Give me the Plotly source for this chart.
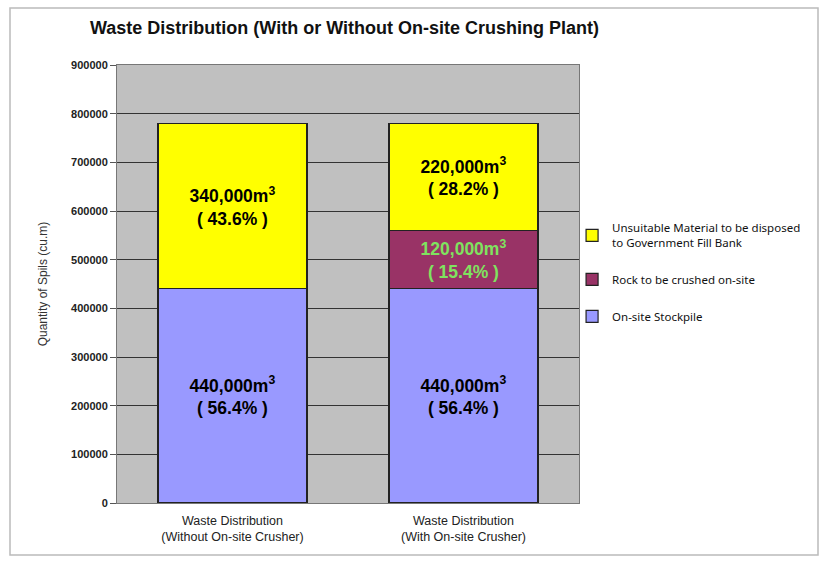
import plotly.graph_objects as go

categories = ["Waste Distribution<br>(Without On-site Crusher)",
              "Waste Distribution<br>(With On-site Crusher)"]
stockpile = [440000, 440000]
rock = [0, 120000]
unsuitable = [340000, 220000]
series_names = ["On-site Stockpile", "Rock to be crushed on-site",
                "Unsuitable Material to be disposed<br>to Government Fill Bank"]
y_ticks = [0, 100000, 200000, 300000, 400000, 500000, 600000, 700000, 800000, 900000]

totals = [a + b + c for a, b, c in zip(stockpile, rock, unsuitable)]


def labels(vals):
    out = []
    for v, t in zip(vals, totals):
        if v == 0:
            out.append(None)
        else:
            out.append(f"<b>{v:,}m<sup>3</sup><br>( {100 * v / t:.1f}% )</b>")
    return out


colors = ["#9999ff", "#993366", "#ffff00"]
text_colors = ["#000000", "#7fe35f", "#000000"]
ranks = [3, 2, 1]

fig = go.Figure()
for i, (name, vals, col, tc) in enumerate(zip(series_names, [stockpile, rock, unsuitable], colors, text_colors)):
    fig.add_trace(go.Bar(
        x=categories, y=vals, name=name, legendgroup=f"g{i}", legendrank=ranks[i],
        marker=dict(color=col, line=dict(color="#222222", width=1.2)),
        text=labels(vals), textposition="inside", insidetextanchor="middle",
        textangle=0, constraintext="none",
        textfont=dict(family="Arial, Liberation Sans, sans-serif", size=17.5, color=tc),
        hoverinfo="skip",
    ))

fig.update_layout(
    barmode="stack", bargap=0.355,
    width=822, height=563,
    margin=dict(l=117, r=243, t=65, b=60, autoexpand=False),
    paper_bgcolor="white", plot_bgcolor="#c0c0c0",
    title=dict(text="<b>Waste Distribution (With or Without On-site Crushing Plant)</b>",
               x=90 / 822, xanchor="left", y=1 - 28 / 563, yanchor="middle",
               font=dict(family="Arial, Liberation Sans, sans-serif", size=18, color="#111111")),
    showlegend=True,
    legend=dict(x=0.985, xanchor="left", y=0.66, yanchor="top",
                traceorder="grouped", tracegroupgap=18,
                font=dict(family="Noto Sans, Arial, sans-serif", size=11.5, color="#111111"),
                bgcolor="rgba(0,0,0,0)", itemwidth=30),
    font=dict(family="Arial, Liberation Sans, sans-serif"),
)

fig.update_xaxes(showgrid=False, linecolor="#777777", linewidth=1, mirror=True,
                 tickfont=dict(size=12.5, color="#222222"), ticks="",
                 ticklabelstandoff=6)
fig.update_yaxes(range=[0, 900000], tickvals=y_ticks,
                 ticktext=[f"<b>{v}</b>" for v in y_ticks],
                 showgrid=True, gridcolor="#333333", gridwidth=1,
                 ticks="outside", ticklen=6, tickcolor="#555555",
                 linecolor="#777777", linewidth=1, mirror=True,
                 tickfont=dict(size=11, color="#222222"),
                 title=dict(text="Quantity of Spils (cu.m)", standoff=20,
                            font=dict(size=12, color="#333333")),
                 zeroline=False)

# outer frame
fig.add_shape(type="rect", xref="paper", yref="paper",
              x0=-107 / 462, x1=(818 - 117) / 462, y0=-52 / 438, y1=1 + 57 / 438,
              line=dict(color="#bbbbbb", width=1.5), layer="below")

fig.write_html("out.html")
